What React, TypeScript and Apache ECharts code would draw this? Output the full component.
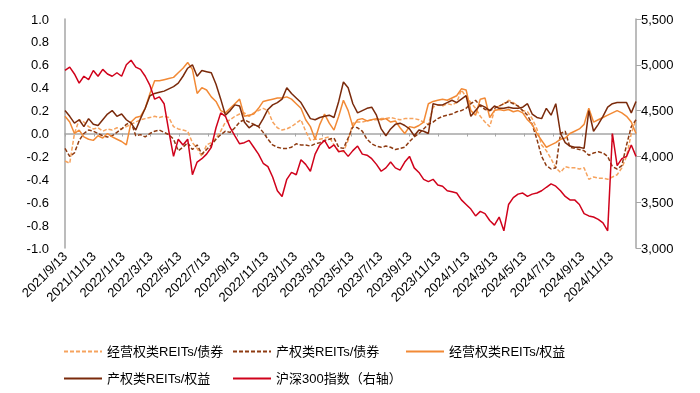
import React, { useEffect, useRef } from "react";
import * as echarts from "echarts";

// sampling: every 10 days starting 2021/9/13
const startYMD = [2021, 9, 13];
const stepDays = 10;

const tickLabels = [
  "2021/9/13", "2021/11/13", "2022/1/13", "2022/3/13", "2022/5/13", "2022/7/13",
  "2022/9/13", "2022/11/13", "2023/1/13", "2023/3/13", "2023/5/13", "2023/7/13",
  "2023/9/13", "2023/11/13", "2024/1/13", "2024/3/13", "2024/5/13", "2024/7/13",
  "2024/9/13", "2024/11/13",
];

const seriesNames = [
  "经营权类REITs/债券",
  "产权类REITs/债券",
  "经营权类REITs/权益",
  "产权类REITs/权益",
  "沪深300指数（右轴）",
];

const opBond = [
  -0.24, -0.26, 0.0, 0.12, 0.1, 0.06, 0.04, 0.05, 0.02, 0.04,
  0.03, 0.05, 0.04, 0.06, 0.08, 0.1, 0.12, 0.13, 0.14, 0.15,
  0.14, 0.15, 0.14, 0.06, 0.04, 0.03, 0.02, -0.08, -0.13, -0.2,
  -0.1, -0.08, -0.04, 0.02, 0.1, 0.12, 0.15, 0.17, 0.18, 0.15,
  0.18, 0.2, 0.22, 0.2, 0.1, 0.05, 0.03, 0.04, 0.06, 0.09,
  0.12, 0.02, -0.06, -0.05, -0.05, -0.04, -0.03, -0.1, -0.15, -0.16,
  -0.06, 0.09, 0.1, 0.1, 0.11, 0.12, 0.12, 0.13, 0.13, 0.14,
  0.13, 0.12, 0.13, 0.13, 0.13, 0.12, 0.1, 0.08, 0.23, 0.25,
  0.24, 0.26, 0.25, 0.27, 0.38, 0.32, 0.27, 0.22, 0.15, 0.1,
  0.06, 0.2, 0.24, 0.26, 0.29, 0.27, 0.24, 0.2, 0.19, 0.13,
  0.04, -0.1, -0.15, -0.22, -0.3, -0.34, -0.29, -0.3, -0.3, -0.31,
  -0.3, -0.4, -0.38, -0.39, -0.39, -0.4, -0.38, -0.36, -0.3, -0.2,
  0.0, 0.12,
];

const propBond = [
  -0.13, -0.2, -0.17, -0.06, 0.0, 0.03, 0.02, 0.0, -0.02, -0.03,
  -0.02, 0.01, 0.04, 0.08, 0.1, -0.02, -0.01, -0.03, 0.0, 0.02,
  0.03, 0.01, -0.01, -0.05, -0.15, -0.12, -0.08, -0.14, -0.1, -0.18,
  -0.14, -0.1, -0.05, -0.01, 0.02, 0.01, 0.05, 0.1, 0.12, 0.1,
  0.08, 0.06, 0.01, -0.05, -0.1, -0.12, -0.13, -0.13, -0.12, -0.09,
  -0.1, -0.1, -0.11, -0.09, -0.08, -0.06, -0.05, -0.04, -0.12, -0.13,
  -0.04, 0.06, 0.05, 0.02, -0.05, -0.09, -0.11, -0.12, -0.11, -0.12,
  -0.14, -0.13, -0.12, -0.07, -0.03, 0.0, 0.04, 0.08, 0.1, 0.13,
  0.15, 0.16, 0.17, 0.19, 0.2, 0.22, 0.26, 0.29, 0.24, 0.21,
  0.2, 0.22, 0.24, 0.26, 0.28, 0.26, 0.24, 0.2, 0.16, 0.08,
  -0.05, -0.2, -0.28, -0.31, -0.3, 0.0, 0.02, -0.12, -0.13, -0.14,
  -0.15, -0.19, -0.17, -0.16, -0.17, -0.2, -0.29, -0.31, -0.28, -0.1,
  0.06, 0.12,
];

const opEquity = [
  0.15, 0.1, 0.0, 0.03, -0.03, -0.05, -0.06, -0.02, -0.04, 0.0,
  -0.03, -0.05, -0.07, -0.1, 0.1, 0.14, 0.15, 0.22, 0.35, 0.46,
  0.46, 0.47, 0.48, 0.49, 0.53, 0.57, 0.62, 0.56, 0.35, 0.4,
  0.38, 0.32, 0.28, 0.2, 0.18, 0.22, 0.26, 0.3, 0.15, 0.16,
  0.17, 0.22, 0.28, 0.29, 0.3, 0.31, 0.31, 0.32, 0.3, 0.26,
  0.22, 0.12, 0.06, -0.05, 0.08, 0.17, 0.09, 0.03, 0.15, 0.29,
  0.2, 0.06, 0.12, 0.13, 0.11, 0.12, 0.13, 0.12, 0.13, 0.1,
  0.11, 0.05, 0.0, 0.06, 0.05, 0.07, 0.1, 0.26, 0.28, 0.29,
  0.3, 0.29, 0.31, 0.33, 0.39, 0.38, 0.2, 0.16, 0.3, 0.31,
  0.14, 0.2, 0.21, 0.2, 0.21, 0.19, 0.2, 0.18, 0.12, 0.08,
  0.0, -0.06, -0.12, -0.1, -0.08, -0.05, -0.04, 0.0, 0.02, 0.04,
  0.08, 0.22, 0.1, 0.12, 0.14, 0.16, 0.18, 0.2, 0.18, 0.15,
  0.1, 0.0,
];

const propEquity = [
  0.2, 0.15, 0.09, 0.12, 0.06, 0.13, 0.08, 0.07, 0.12, 0.17,
  0.2, 0.15, 0.17, 0.12, 0.09, 0.03, 0.13, 0.22, 0.33, 0.35,
  0.36, 0.37, 0.39, 0.41, 0.44, 0.5, 0.57, 0.6, 0.5, 0.55,
  0.54, 0.53, 0.43, 0.3, 0.16, 0.2, 0.25, 0.24, 0.1, 0.05,
  0.08, 0.06, 0.13, 0.21, 0.25, 0.27, 0.3, 0.4, 0.35, 0.31,
  0.27, 0.2, 0.13, 0.12, 0.14, 0.15, 0.16, 0.14, 0.28, 0.45,
  0.4, 0.26, 0.18, 0.2, 0.22, 0.23, 0.16, 0.04, -0.02, 0.04,
  0.08, 0.09, 0.07, 0.04, -0.02, 0.03, 0.02, 0.0, 0.26, 0.25,
  0.25, 0.27, 0.29, 0.27, 0.3, 0.33, 0.15, 0.2, 0.25, 0.23,
  0.2, 0.24, 0.22, 0.22, 0.23, 0.22, 0.22, 0.23, 0.26, 0.17,
  0.14, 0.13, 0.22, 0.16, 0.26, 0.0, -0.08, -0.11, -0.12, -0.12,
  -0.13, 0.2, 0.02, 0.08, 0.15, 0.23, 0.26, 0.27, 0.27, 0.27,
  0.18, 0.28,
];

const csi300 = [
  4938, 4975, 4900, 4800, 4875, 4838, 4938, 4875, 4950, 4900,
  4875, 4913, 4875, 5000, 5050, 4975, 4950, 4875, 4775, 4625,
  4650, 4575, 4275, 4000, 4188, 4125, 4188, 3800, 3938, 3975,
  4025, 4100, 4313, 4475, 4438, 4313, 4225, 4138, 4150, 4175,
  4100, 4025, 3925, 3888, 3775, 3625, 3563, 3750, 3825, 3800,
  3963, 3913, 3838, 4025, 4125, 4175, 4088, 4125, 4050, 4063,
  4000, 4063, 4113, 4025, 4013, 3975, 3913, 3838, 3875, 3938,
  3875, 3850, 3938, 4000, 3875, 3825, 3750, 3725, 3750, 3688,
  3675, 3625, 3613, 3600, 3525, 3475, 3425, 3350, 3400, 3375,
  3300, 3250, 3338, 3188, 3475, 3550, 3588, 3600, 3563, 3588,
  3600, 3625, 3663, 3700, 3675, 3625, 3563, 3525, 3525, 3475,
  3375, 3350, 3338, 3313, 3275, 3188, 4250, 3900, 3975, 4000,
  4125, 4000,
];

const colors = ["#F6A35E", "#8E3B12", "#F28A36", "#7A2A0B", "#D0021B"];

function pointDate(i: number): number {
  return new Date(startYMD[0], startYMD[1] - 1, startYMD[2] + i * stepDays).getTime();
}

function parseLabel(s: string): number {
  const [y, m, d] = s.split("/").map(Number);
  return new Date(y, m - 1, d).getTime();
}

function fmtDate(v: number): string {
  const d = new Date(v);
  return `${d.getFullYear()}/${d.getMonth() + 1}/${d.getDate()}`;
}

export default function App() {
  const ref = useRef<HTMLDivElement>(null);
  useEffect(() => {
    if (!ref.current) return;
    const chart = echarts.init(ref.current, null, { renderer: "svg" });
    const n = csi300.length;
    const minT = pointDate(0);
    const maxT = pointDate(n - 1);
    const tickVals = tickLabels.map(parseLabel);
    const zip = (arr: number[]) => arr.map((v, i) => [pointDate(i), v]);
    const font = "'Liberation Sans', Arial, sans-serif";
    const cjk = "'Liberation Sans', 'Noto Sans CJK SC', sans-serif";

    const allData = [opBond, propBond, opEquity, propEquity, csi300];
    const series = allData.map((arr, k) => ({
      name: seriesNames[k],
      type: "line",
      data: zip(arr),
      xAxisIndex: 0,
      yAxisIndex: k === 4 ? 1 : 0,
      showSymbol: false,
      symbol: "none",
      lineStyle: {
        color: colors[k],
        width: 1.5,
        type: k < 2 ? [4, 2] : "solid",
      },
      itemStyle: { color: colors[k] },
    }));

    const legendPos = [
      [63, 345],
      [232, 345],
      [405, 345],
      [63, 372],
      [232, 372],
    ];

    chart.setOption({
      animation: false,
      grid: { left: 65, right: 64, top: 19, bottom: 145 },
      legend: seriesNames.map((nm, k) => ({
        data: [nm],
        left: legendPos[k][0],
        top: legendPos[k][1],
        padding: 0,
        itemWidth: 38,
        itemHeight: 14,
        itemGap: 7,
        itemStyle: { opacity: 0 },
        textStyle: { fontSize: 13, color: "#000", fontFamily: cjk },
      })),
      xAxis: [
        {
          type: "value",
          min: minT,
          max: maxT,
          position: "bottom",
          axisLine: { show: true, onZero: true, onZeroAxisIndex: 0, lineStyle: { color: "#A6A6A6", width: 1.5 } },
          axisTick: { show: true, customValues: tickVals, length: 3, lineStyle: { color: "#A6A6A6" } },
          axisLabel: { show: false, customValues: tickVals },
          splitLine: { show: false },
        },
        {
          type: "value",
          min: minT,
          max: maxT,
          position: "bottom",
          axisLine: { show: false, onZero: false },
          axisTick: { show: false, customValues: tickVals },
          splitLine: { show: false },
          axisLabel: {
            show: true,
            customValues: tickVals,
            rotate: 45,
            margin: 6,
            fontSize: 13,
            color: "#000",
            fontFamily: font,
            formatter: (v: number) => fmtDate(v),
            hideOverlap: false,
            showMinLabel: true,
            showMaxLabel: true,
          },
        },
      ],
      yAxis: [
        {
          type: "value",
          min: -1,
          max: 1,
          interval: 0.2,
          axisLine: { show: true, lineStyle: { color: "#A6A6A6", width: 1.5 } },
          axisTick: { show: false },
          splitLine: { show: false },
          axisLabel: {
            fontSize: 13,
            color: "#000",
            fontFamily: font,
            margin: 16,
            formatter: (v: number) => v.toFixed(1),
          },
        },
        {
          type: "value",
          min: 3000,
          max: 5500,
          interval: 500,
          position: "right",
          axisLine: { show: true, lineStyle: { color: "#A6A6A6", width: 1.5 } },
          axisTick: { show: true, length: 5, lineStyle: { color: "#A6A6A6" } },
          splitLine: { show: false },
          axisLabel: {
            fontSize: 13,
            color: "#000",
            fontFamily: font,
            margin: 5,
            formatter: (v: number) => v.toLocaleString("en-US"),
          },
        },
      ],
      series,
    });
    return () => chart.dispose();
  }, []);
  return <div ref={ref} style={{ width: 700, height: 393, position: "fixed", left: 0, top: 0 }} />;
}
